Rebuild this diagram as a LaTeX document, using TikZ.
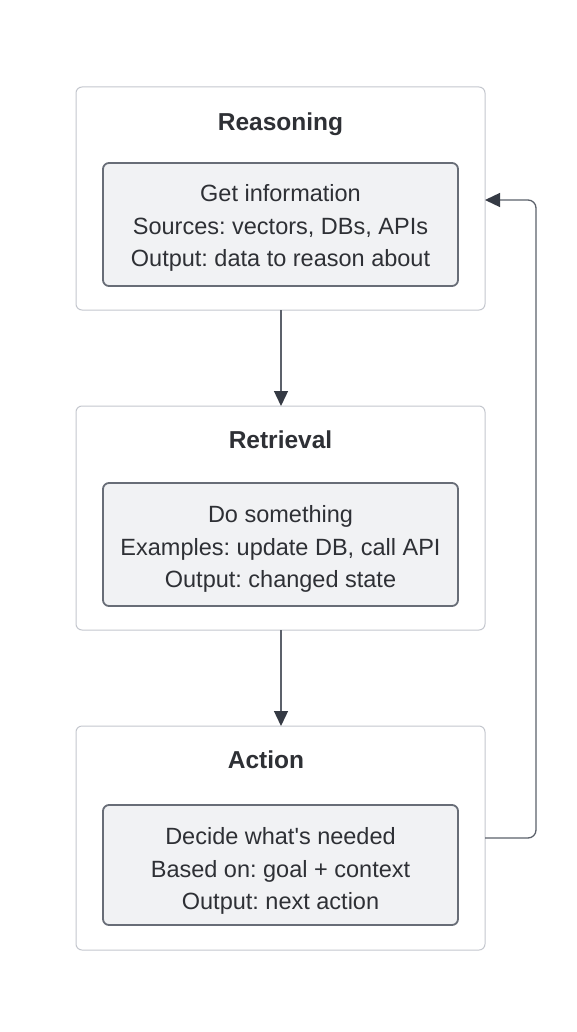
\documentclass[tikz,border=0pt]{standalone}
\usepackage{fontspec}
\setmainfont{Liberation Sans}
\usetikzlibrary{arrows.meta}
\definecolor{outerline}{HTML}{C4C7CE}
\definecolor{innerfill}{HTML}{F1F2F4}
\definecolor{innerline}{HTML}{686D77}
\definecolor{txt}{HTML}{2E3035}
\definecolor{arrowc}{HTML}{5C616B}
\definecolor{headc}{HTML}{353A44}
\tikzset{
  outerbox/.style={draw=outerline, line width=1pt, rounded corners=6pt, fill=white},
  innerbox/.style={draw=innerline, line width=1.8pt, rounded corners=6pt, fill=innerfill},
  titletext/.style={text=txt, font=\fontsize{24.5}{28}\selectfont\bfseries},
  bodytext/.style={text=txt, font=\fontsize{23.5}{32.5}\selectfont\frenchspacing, align=center},
  conn/.style={draw=arrowc, line width=1.3pt, -{Triangle[length=15pt,width=14pt,color=headc,fill=headc]}}
}
\begin{document}
\begin{tikzpicture}[x=1pt,y=-1pt]
\useasboundingbox[fill=white] (0,0) rectangle (576,1032);
% outer boxes
\path[outerbox] (76,87) rectangle (485,310);
\path[outerbox] (76,406) rectangle (485,630);
\path[outerbox] (76,726) rectangle (485,950);
\coordinate (b1s) at (281,310);
\coordinate (b2n) at (281,406);
\coordinate (b2s) at (281,630);
\coordinate (b3n) at (281,726);
\coordinate (b1e) at (485,200);
\coordinate (b3e) at (485,838);
% inner boxes
\path[innerbox] (103,163) rectangle (458,286);
\path[innerbox] (103,483) rectangle (458,606);
\path[innerbox] (103,805) rectangle (458,925);
% titles
\node[titletext] (t1) at (280.5,124) {Reasoning};
\node[titletext] (t2) at (280.5,440) {Retrieval};
\node[titletext] (t3) at (266,760) {Action};
% body
\node[bodytext] (c1) at (280.5,228) {Get information\\Sources: vectors, DBs, APIs\\Output: data to reason about};
\node[bodytext] (c2) at (280.5,549) {Do something\\Examples: update DB, call API\\Output: changed state};
\node[bodytext] (c3) at (280.5,871) {Decide what\textquotesingle s needed\\Based on: goal + context\\Output: next action};
% connectors
\draw[conn] (b1s) -- (b2n);
\draw[conn] (b2s) -- (b3n);
\draw[conn, rounded corners=8pt] (b3e) -- (536,838) -- (536,200) -- (b1e);
\end{tikzpicture}
\end{document}
